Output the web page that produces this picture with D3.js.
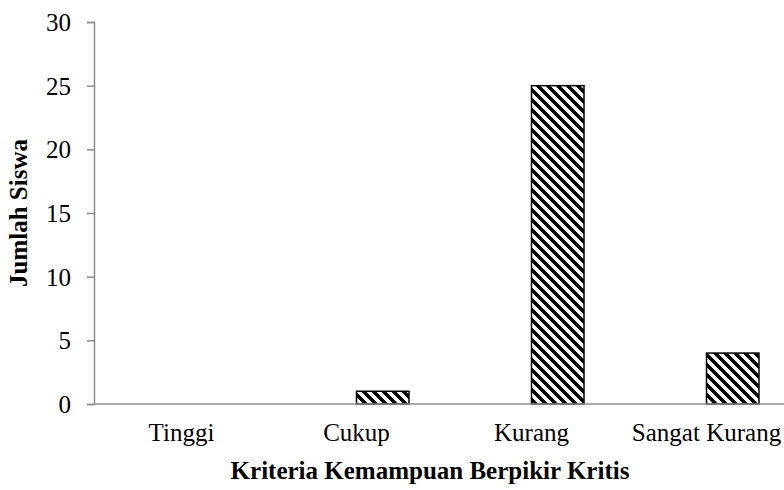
<!DOCTYPE html>
<meta charset="utf-8">
<style>
body {
  margin: 0;
  background: #fff;
  font-family: "Liberation Serif", "Times New Roman", serif;
}
.axis text {
  font-family: "Liberation Serif", "Times New Roman", serif;
  font-size: 25px;
  fill: #000;
}
.axis path, .axis line {
  stroke: #8c8c8c;
  stroke-width: 1.5px;
}
.title {
  font-size: 25px;
  font-weight: bold;
}
</style>
<body>
<script src="https://cdnjs.cloudflare.com/ajax/libs/d3/7.8.5/d3.min.js"></script>
<script>
var categories = ["Tinggi", "Cukup", "Kurang", "Sangat Kurang"];
var jumlahSiswa = [0, 1, 25, 4];
var yTicks = [0, 5, 10, 15, 20, 25, 30];

var width = 784, height = 490;
var margin = {left: 94, top: 22, bottom: 86};

var svg = d3.select("body").append("svg")
    .attr("width", width)
    .attr("height", height);

// pola arsir diagonal lebar (seperti pola Excel)
var n = 10;
var pat = svg.append("defs").append("pattern")
    .attr("id", "arsir")
    .attr("patternUnits", "userSpaceOnUse")
    .attr("width", n).attr("height", n);
pat.append("rect").attr("width", n).attr("height", n).attr("fill", "#fff");
for (var r = 0; r < n; r++) {
  for (var k = 0; k < n / 2; k++) {
    pat.append("rect")
      .attr("x", (r + k) % n).attr("y", r)
      .attr("width", 1).attr("height", 1)
      .attr("fill", "#000");
  }
}

var x = d3.scaleBand()
    .domain(categories)
    .range([margin.left, margin.left + 700]);

// dua seri, seri pertama kosong
var x1 = d3.scaleBand()
    .domain(["kosong", "jumlah"])
    .range([x.bandwidth() * 0.2, x.bandwidth() * 0.8]);

var y = d3.scaleLinear()
    .domain([0, 30])
    .range([height - margin.bottom, margin.top]);

svg.append("g")
    .attr("class", "axis")
    .attr("transform", "translate(" + margin.left + ",0)")
    .call(d3.axisLeft(y).tickValues(yTicks).tickSize(7).tickPadding(16).tickSizeOuter(7))
    .call(function(g) { g.selectAll("text").attr("dy", "0.34em"); });

svg.selectAll(".bar")
    .data(categories)
    .enter().append("rect")
    .attr("class", "bar")
    .attr("x", function(d) { return x(d) + x1("jumlah"); })
    .attr("y", function(d, i) { return y(jumlahSiswa[i]); })
    .attr("width", x1.bandwidth())
    .attr("height", function(d, i) { return y(0) - y(jumlahSiswa[i]); })
    .attr("fill", "url(#arsir)")
    .attr("stroke", "#000")
    .attr("stroke-width", 1.5)
    .style("display", function(d, i) { return jumlahSiswa[i] > 0 ? null : "none"; });

var xAxis = svg.append("g")
    .attr("class", "axis")
    .attr("transform", "translate(0," + y(0) + ")")
    .call(d3.axisBottom(x).tickSize(0).tickPadding(19));
xAxis.select(".domain").attr("d", "M" + margin.left + ",0H" + width);

svg.append("text")
    .attr("class", "title")
    .attr("x", 430)
    .attr("y", 479)
    .attr("text-anchor", "middle")
    .text("Kriteria Kemampuan Berpikir Kritis");

svg.append("text")
    .attr("class", "title")
    .attr("transform", "translate(27," + y(15) + ") rotate(-90)")
    .attr("text-anchor", "middle")
    .text("Jumlah Siswa");
</script>
</body>
